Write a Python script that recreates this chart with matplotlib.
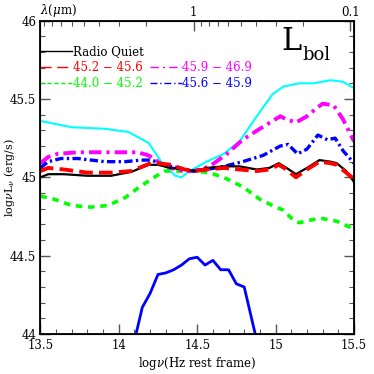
import numpy as np
import matplotlib
matplotlib.use("Agg")
import matplotlib.pyplot as plt
from matplotlib.ticker import MultipleLocator, FixedLocator, NullFormatter

plt.rcParams['font.family'] = ['DejaVu Serif']
plt.rcParams['mathtext.fontset'] = 'dejavuserif'

# ---- data (log nu, log nuL_nu) ----
rq_x = [13.50, 13.55, 13.65, 13.80, 13.95, 14.08, 14.19, 14.25, 14.33, 14.42, 14.48, 14.56, 14.67, 14.77, 14.88, 14.96, 15.02, 15.07, 15.13, 15.20, 15.28, 15.35, 15.39, 15.45, 15.50]
rq_y = [45.00, 45.02, 45.02, 45.01, 45.01, 45.035, 45.08, 45.08, 45.06, 45.05, 45.04, 45.06, 45.07, 45.07, 45.05, 45.06, 45.09, 45.06, 45.02, 45.06, 45.11, 45.10, 45.09, 45.04, 44.97]

red_x = [13.50, 13.55, 13.65, 13.80, 13.95, 14.08, 14.19, 14.25, 14.33, 14.42, 14.48, 14.56, 14.67, 14.77, 14.88, 14.96, 15.02, 15.07, 15.13, 15.20, 15.28, 15.35, 15.39, 15.45, 15.50]
red_y = [45.04, 45.06, 45.05, 45.03, 45.03, 45.04, 45.085, 45.09, 45.08, 45.05, 45.04, 45.05, 45.06, 45.05, 45.04, 45.05, 45.08, 45.05, 45.00, 45.05, 45.10, 45.09, 45.08, 45.03, 44.99]

green_x = [13.50, 13.59, 13.70, 13.82, 13.93, 14.04, 14.12, 14.21, 14.29, 14.36, 14.48, 14.58, 14.69, 14.79, 14.90, 14.98, 15.05, 15.11, 15.15, 15.28, 15.39, 15.50]
green_y = [44.88, 44.86, 44.82, 44.81, 44.82, 44.87, 44.93, 44.99, 45.04, 45.04, 45.04, 45.03, 44.99, 44.94, 44.86, 44.82, 44.79, 44.73, 44.71, 44.74, 44.72, 44.67]

mag_x = [13.50, 13.55, 13.61, 13.74, 13.91, 14.04, 14.12, 14.19, 14.25, 14.33, 14.42, 14.48, 14.58, 14.69, 14.79, 14.90, 15.03, 15.07, 15.13, 15.20, 15.26, 15.30, 15.37, 15.43, 15.50]
mag_y = [45.09, 45.13, 45.15, 45.16, 45.16, 45.16, 45.16, 45.14, 45.10, 45.06, 45.04, 45.04, 45.07, 45.15, 45.24, 45.31, 45.39, 45.37, 45.35, 45.39, 45.44, 45.47, 45.46, 45.37, 45.23]

blue_x = [13.50, 13.55, 13.63, 13.74, 13.91, 14.04, 14.14, 14.21, 14.29, 14.38, 14.48, 14.56, 14.67, 14.79, 14.92, 15.03, 15.08, 15.14, 15.20, 15.27, 15.33, 15.38, 15.43, 15.50]
blue_y = [45.06, 45.10, 45.12, 45.12, 45.10, 45.10, 45.11, 45.11, 45.08, 45.06, 45.04, 45.05, 45.07, 45.10, 45.14, 45.20, 45.21, 45.15, 45.18, 45.27, 45.24, 45.25, 45.17, 45.09]

cyan_x = [13.50, 13.70, 13.91, 14.06, 14.19, 14.27, 14.36, 14.40, 14.45, 14.56, 14.67, 14.77, 14.88, 14.98, 15.05, 15.15, 15.24, 15.35, 15.43, 15.50]
cyan_y = [45.36, 45.32, 45.31, 45.29, 45.22, 45.10, 45.01, 45.00, 45.04, 45.10, 45.15, 45.23, 45.39, 45.53, 45.58, 45.60, 45.60, 45.62, 45.61, 45.57]

bsol_x = [14.10, 14.11, 14.15, 14.20, 14.25, 14.30, 14.35, 14.40, 14.45, 14.50, 14.55, 14.60, 14.65, 14.70, 14.75, 14.80, 14.87, 14.88]
bsol_y = [43.95, 44.00, 44.17, 44.26, 44.38, 44.39, 44.41, 44.44, 44.48, 44.49, 44.44, 44.47, 44.41, 44.41, 44.32, 44.30, 44.00, 43.95]

legend_labels = ["Radio Quiet", "45.2 \u2212 45.6", "44.0 \u2212 45.2", "45.9 \u2212 46.9", "45.6 \u2212 45.9"]

fig = plt.figure(figsize=(3.74, 3.74), dpi=100)
ax = fig.add_axes([0.108, 0.107, 0.8385, 0.8377])

ax.plot(cyan_x, cyan_y, color='#00ffff', lw=1.5, solid_joinstyle='round')
ax.plot(bsol_x, bsol_y, color='#0000ff', lw=2.0)
ax.plot(green_x, green_y, color='#00ff00', lw=2.6, dashes=(1.8, 1.6))
ax.plot(mag_x, mag_y, color='#ff00ff', lw=2.8, dashes=(3.2, 1.3, 0.8, 1.3))
ax.plot(blue_x, blue_y, color='#0000ff', lw=2.4, dashes=(2.5, 1.0, 0.7, 1.0))
ax.plot(rq_x, rq_y, color='black', lw=1.6)
ax.plot(red_x, red_y, color='#ff0000', lw=2.8, dashes=(3.5, 1.6))

ax.set_xlim(13.5, 15.5)
ax.set_ylim(44, 46)
ax.xaxis.set_minor_locator(MultipleLocator(0.1))
ax.yaxis.set_minor_locator(MultipleLocator(0.1))
ax.set_xticks([13.5, 14, 14.5, 15, 15.5])
ax.set_xticklabels(["13.5", "14", "14.5", "15", "15.5"])
ax.set_yticks([44, 44.5, 45, 45.5, 46])
ax.set_yticklabels(["44", "44.5", "45", "45.5", "46"])
ax.tick_params(which='both', direction='in', top=False, right=True, labelsize=8.5, color='#555555')
ax.tick_params(which='major', length=7, width=1.0)
ax.tick_params(which='minor', length=3.5, width=0.8)
ax.tick_params(axis='y', pad=3)
for s in ax.spines.values():
    s.set_linewidth(1.3)

ax.set_xlabel(r"log$\nu$(Hz rest frame)", fontsize=8.5, labelpad=2)
ax.text(-0.100, 0.50, r"log$\nu$L$_\nu$ (erg/s)", transform=ax.transAxes, fontsize=8,
        rotation=90, ha='center', va='center')

# top wavelength axis
c_log = np.log10(2.998e14)
top = ax.twiny()
top.set_xlim(13.5, 15.5)
major_lam = [1.0, 0.1]
minor_lam = [2, 3, 4, 5, 6, 7, 8, 9, 0.2, 0.3, 0.4, 0.5, 0.6, 0.7, 0.8, 0.9]
top.xaxis.set_major_locator(FixedLocator([c_log - np.log10(l) for l in major_lam]))
top.set_xticklabels(["1", "0.1"])
top.xaxis.set_minor_locator(FixedLocator([c_log - np.log10(l) for l in minor_lam]))
top.xaxis.set_minor_formatter(NullFormatter())
top.tick_params(which='both', direction='in', labelsize=8.5, pad=1, color='#555555')
top.tick_params(which='major', length=7, width=1.0)
top.tick_params(which='minor', length=3.5, width=0.8)
top.text(0.0, 1.005, r"$\lambda$($\mu$m)", transform=ax.transAxes, fontsize=8.5, ha='left', va='bottom')

# legend drawn manually
def leg(x0, y0, label, color, size=8.5, **kw):
    ax.plot([x0, x0 + 0.102], [y0, y0], transform=ax.transAxes, color=color, lw=1.0, clip_on=False, **kw)
    ax.text(x0 + 0.104, y0, label, transform=ax.transAxes, color=color, fontsize=size, va='center', ha='left')

leg(0.0, 0.902, legend_labels[0], 'black')
leg(0.0, 0.851, legend_labels[1], '#ff0000', dashes=(8, 4))
leg(0.0, 0.800, legend_labels[2], '#00ff00', dashes=(3, 2))
leg(0.349, 0.851, legend_labels[3], '#ff00ff', dashes=(6, 3, 1.5, 3))
leg(0.349, 0.800, legend_labels[4], '#0000ff', dashes=(5, 2, 1, 2))

ax.text(0.770, 0.906, "L", transform=ax.transAxes, fontsize=22, ha='left', va='baseline')
ax.text(0.834, 0.875, "bol", transform=ax.transAxes, fontsize=13, ha='left', va='baseline')

fig.savefig("out.png", dpi=100)
